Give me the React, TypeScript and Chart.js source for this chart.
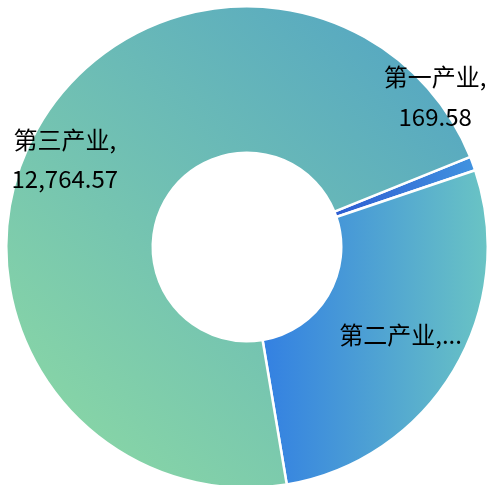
import React, { useEffect, useRef } from 'react';
import { Chart, registerables } from 'chart.js';

Chart.register(...registerables);

// ---- data ----
const categories: string[] = ['第一产业', '第二产业', '第三产业'];
const values: number[] = [169.58, 4911.0, 12764.57];
// labels that are cut short (shown as "name,...")
const truncatedLabels: boolean[] = [false, true, false];

// ---- style ----
const ROTATION = 68; // degrees, Chart.js rotation (0 = top)
const CUTOUT = 0.3915;
const BORDER = 2.5;
const FONT = '24px "Noto Sans CJK SC", "Microsoft YaHei", sans-serif';
const LINE_H = 39.5;

// gradient per slice: [x0,y0,x1,y1] relative to slice bounding box, colour stops
const GRADIENTS: { dir: [number, number, number, number]; stops: string[] }[] = [
  { dir: [0, 0, 1, 0], stops: ['#2d5dd2', '#4193e0'] },
  { dir: [0, 0, 1, 0], stops: ['#3380e2', '#6ac4c4'] },
  { dir: [0, 1, 1, 0], stops: ['#8fdca2', '#50a2c5'] },
];

// label placement: angle offset from slice middle (deg), radius as fraction of outer radius
const LABEL_LAYOUT = [
  { dAngle: -18.3, rFrac: 1.0 },
  { dAngle: -1.2, rFrac: 0.735 },
  { dAngle: -3.5, rFrac: 0.84 },
];

const fmt = (v: number) =>
  v.toLocaleString('en-US', { minimumFractionDigits: 0, maximumFractionDigits: 2 });

function sliceGeometry(chart: any, i: number) {
  const area = chart.chartArea;
  const cx = (area.left + area.right) / 2;
  const cy = (area.top + area.bottom) / 2;
  const R = (Math.min(area.width, area.height) - BORDER) / 2;
  const rIn = R * CUTOUT;
  const total = values.reduce((a, b) => a + b, 0);
  let a0 = ((ROTATION - 90) * Math.PI) / 180;
  for (let j = 0; j < i; j++) a0 += (values[j] / total) * Math.PI * 2;
  const a1 = a0 + (values[i] / total) * Math.PI * 2;
  let minX = Infinity, minY = Infinity, maxX = -Infinity, maxY = -Infinity;
  const steps = 360;
  for (let s = 0; s <= steps; s++) {
    const a = a0 + ((a1 - a0) * s) / steps;
    for (const r of [rIn, R]) {
      const x = cx + r * Math.cos(a);
      const y = cy + r * Math.sin(a);
      minX = Math.min(minX, x); maxX = Math.max(maxX, x);
      minY = Math.min(minY, y); maxY = Math.max(maxY, y);
    }
  }
  return { minX, minY, maxX, maxY };
}

function sliceFill(c: any) {
  const chart = c.chart;
  const i = c.dataIndex;
  const g = GRADIENTS[i];
  if (!chart.chartArea) return g.stops[0];
  const b = sliceGeometry(chart, i);
  const w = b.maxX - b.minX;
  const h = b.maxY - b.minY;
  const grad = chart.ctx.createLinearGradient(
    b.minX + g.dir[0] * w,
    b.minY + g.dir[1] * h,
    b.minX + g.dir[2] * w,
    b.minY + g.dir[3] * h
  );
  g.stops.forEach((col, k) => grad.addColorStop(k / (g.stops.length - 1), col));
  return grad;
}

const labelPlugin = {
  id: 'sliceLabels',
  afterDatasetsDraw(chart: any) {
    const meta = chart.getDatasetMeta(0);
    const ctx = chart.ctx;
    ctx.save();
    ctx.font = FONT;
    ctx.fillStyle = '#000000';
    ctx.textAlign = 'center';
    ctx.textBaseline = 'middle';
    meta.data.forEach((arc: any, i: number) => {
      const p = arc.getProps(['x', 'y', 'startAngle', 'endAngle', 'outerRadius'], true);
      const lay = LABEL_LAYOUT[i];
      const a = (p.startAngle + p.endAngle) / 2 + (lay.dAngle * Math.PI) / 180;
      const r = p.outerRadius * lay.rFrac;
      const px = p.x + r * Math.cos(a);
      const py = p.y + r * Math.sin(a);
      const lines = truncatedLabels[i]
        ? [`${categories[i]},...`]
        : [`${categories[i]},`, fmt(values[i])];
      lines.forEach((ln, k) => {
        ctx.fillText(ln, px, py + (k - (lines.length - 1) / 2) * LINE_H);
      });
    });
    ctx.restore();
  },
};

export default function App() {
  const ref = useRef<HTMLCanvasElement>(null);
  useEffect(() => {
    const canvas = ref.current;
    if (!canvas) return;
    const chart = new Chart(canvas, {
      type: 'doughnut',
      data: {
        labels: categories,
        datasets: [
          {
            data: values,
            backgroundColor: sliceFill as any,
            borderColor: '#ffffff',
            borderWidth: BORDER,
            hoverOffset: 0,
          },
        ],
      },
      options: {
        responsive: false,
        animation: false,
        devicePixelRatio: 1,
        cutout: `${CUTOUT * 100}%`,
        rotation: ROTATION,
        layout: { padding: { left: 5, right: 0, top: 5, bottom: 5 } },
        plugins: {
          legend: { display: false },
          tooltip: { enabled: false },
        },
      },
      plugins: [labelPlugin],
    });
    return () => chart.destroy();
  }, []);
  return (
    <div
      style={{
        position: 'fixed',
        left: 0,
        top: 0,
        width: 489,
        height: 485,
        overflow: 'hidden',
        background: '#ffffff',
      }}
    >
      <canvas ref={ref} width={489} height={494} style={{ display: 'block', width: 489, height: 494 }} />
    </div>
  );
}
